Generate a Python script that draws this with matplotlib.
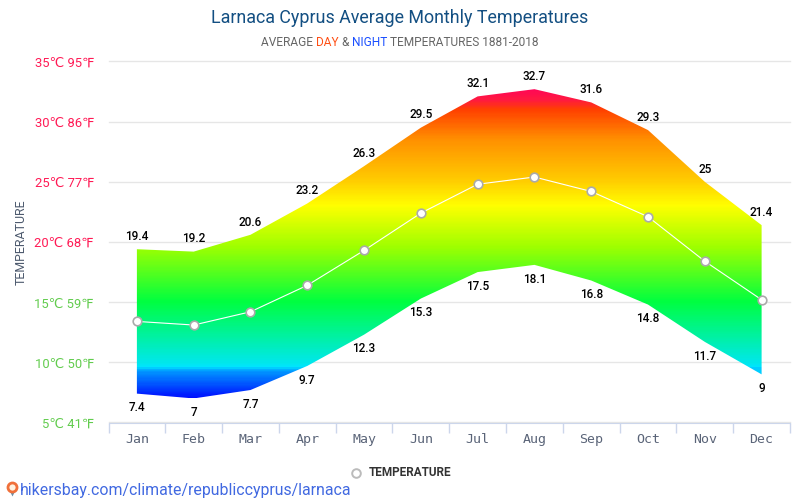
import numpy as np
import matplotlib
matplotlib.use("Agg")
import matplotlib.pyplot as plt
from matplotlib.colors import LinearSegmentedColormap
from matplotlib.patches import Polygon

plt.rcParams['font.family'] = ['Roboto', 'DejaVu Sans']

months = ["Jan", "Feb", "Mar", "Apr", "May", "Jun", "Jul", "Aug", "Sep", "Oct", "Nov", "Dec"]
day = [19.4, 19.2, 20.6, 23.2, 26.3, 29.5, 32.1, 32.7, 31.6, 29.3, 25, 21.4]
night = [7.4, 7, 7.7, 9.7, 12.3, 15.3, 17.5, 18.1, 16.8, 14.8, 11.7, 9]
mean = [13.4, 13.1, 14.2, 16.4, 19.3, 22.4, 24.8, 25.4, 24.2, 22.1, 18.4, 15.2]
celsius = [5, 10, 15, 20, 25, 30, 35]
fahrenheit = [41, 50, 59, 68, 77, 86, 95]
tick_colors = ["#62cc4e", "#62cc4e", "#62cc4e", "#ff1a55", "#ff1a55", "#ff1a55", "#ff1a55"]

# temperature -> colour stops for the band
grad_temps = [7, 9.1, 9.4, 9.5, 10, 15, 19.6, 23, 25.1, 28.5, 31, 31.8, 33]
grad_colors = ["#0010ff", "#0090ff", "#00b8ff", "#00e5ff", "#00e8e8", "#00ff40", "#a0ff00", "#ffff00", "#ffcc00",
               "#ff9000", "#ff4000", "#ff1a40", "#ff0060"]

W, H = 800, 500
fig = plt.figure(figsize=(W / 100, H / 100), dpi=100)
ax = fig.add_axes([108.5 / W, 1 - 422.5 / H, 681.5 / W, 361 / H])
ax.set_xlim(-0.5, 11.5)
ax.set_ylim(5, 35)

x = np.arange(len(months))
for spine in ["top", "left", "right"]:
    ax.spines[spine].set_visible(False)
ax.spines["bottom"].set_color("#ccd6eb")
ax.grid(axis="y", color="#e6e6e6", lw=1, clip_on=False)
ax.set_axisbelow(True)

# gradient band, the blue part only shows on the left side
lo, hi = grad_temps[0], grad_temps[-1]
stops = [(t - lo) / (hi - lo) for t in grad_temps]
cmap = LinearSegmentedColormap.from_list("temp", list(zip(stops, grad_colors)))
left_col = np.linspace(1, 0, 1024)
right_col = np.maximum(left_col, (9.5 - lo) / (hi - lo))
img = ax.imshow(np.column_stack([left_col, right_col]), cmap=cmap, aspect="auto", interpolation="nearest",
                extent=[-0.5, 11.5, lo, hi], zorder=2, vmin=0, vmax=1)
band = Polygon(np.column_stack([np.r_[x, x[::-1]], np.r_[day, night[::-1]]]),
               closed=True, transform=ax.transData, fc="none", ec="none")
ax.add_patch(band)
img.set_clip_path(band)
ax.set_xlim(-0.5, 11.5)
ax.set_ylim(5, 35)

# mean line
ax.plot(x, mean, color="white", lw=0.8, marker="o", ms=6.2, mfc="white", mec="#aaaaaa",
        mew=1.2, zorder=4, clip_on=False)

# data labels
for i in x:
    ax.annotate(f"{day[i]:g}", (i, day[i]), xytext=(0, 4.5), textcoords="offset points",
                ha="center", va="bottom", fontsize=8.5, fontweight="medium", color="black", zorder=5)
    ax.annotate(f"{night[i]:g}", (i, night[i]), xytext=(0, -5.5), textcoords="offset points",
                ha="center", va="top", fontsize=8.5, fontweight="medium", color="black", zorder=5)

ax.set_xticks(np.arange(-0.5, 12, 1))
ax.set_xticklabels([])
ax.tick_params(axis="x", color="#ccd6eb", length=7.2, width=1)
ax.tick_params(axis="y", length=0, pad=10.4)
ax.set_yticks(celsius)
ax.set_yticklabels([f"{c}℃ {f}℉" for c, f in zip(celsius, fahrenheit)], fontsize=9.4)
for lab, col in zip(ax.get_yticklabels(), tick_colors):
    lab.set_color(col)

for i, m in enumerate(months):
    ax.text(i, 5 - 16.5 / 12.03, m, ha="center", va="center", family="DejaVu Sans Mono",
            fontsize=9.5, color="#5a6478", clip_on=False)

fig.text(21 / W, 1 - 242 / H, "TEMPERATURE", rotation=90, ha="center", va="center",
         fontsize=8.9, color="#4d5a6e")

# titles
fig.text(400 / W, 1 - 18 / H, "Larnaca Cyprus Average Monthly Temperatures", ha="center", va="center",
         fontsize=12.9, color="#134f82")

parts = [("AVERAGE ", "#666666"), ("DAY", "#ff4f14"), (" & ", "#666666"), ("NIGHT", "#1a4fff"),
         (" TEMPERATURES 1881-2018", "#666666")]
renderer = fig.canvas.get_renderer()
tmp = [fig.text(0, 0, s.replace(" ", "\u00a0"), fontsize=8.6) for s, _ in parts]
widths = [t.get_window_extent(renderer).width for t in tmp]
for t in tmp:
    t.remove()
px = 400 - sum(widths) / 2
for (s, c), w in zip(parts, widths):
    fig.text(px / W, 1 - 42 / H, s.replace(" ", "\u00a0"), fontsize=8.6, color=c, ha="left", va="center")
    px += w

# legend
fig.add_artist(plt.Line2D([356 / W], [1 - 472.5 / H], marker="o", ms=6.2, mfc="white", mec="#bbbbbb", mew=1.4,
                          transform=fig.transFigure))
fig.text(369 / W, 1 - 472.5 / H, "TEMPERATURE", fontsize=8.5, fontweight="bold", color="#333333",
         ha="left", va="center")

# footer link with pin
fig.add_artist(plt.Line2D([12 / W], [1 - 491 / H], marker="v", ms=7, color="#6b8fa8", mec="none",
                          transform=fig.transFigure))
fig.add_artist(plt.Line2D([12 / W], [1 - 486.5 / H], marker="o", ms=6.5, mfc="#fff2e0", mec="#f0703a", mew=2,
                          transform=fig.transFigure))
fig.text(20 / W, 1 - 490 / H, "hikersbay.com/climate/republiccyprus/larnaca", fontsize=11.45, color="#4169e1",
         ha="left", va="center")

fig.savefig("out.png", dpi=100)
plt.close(fig)
